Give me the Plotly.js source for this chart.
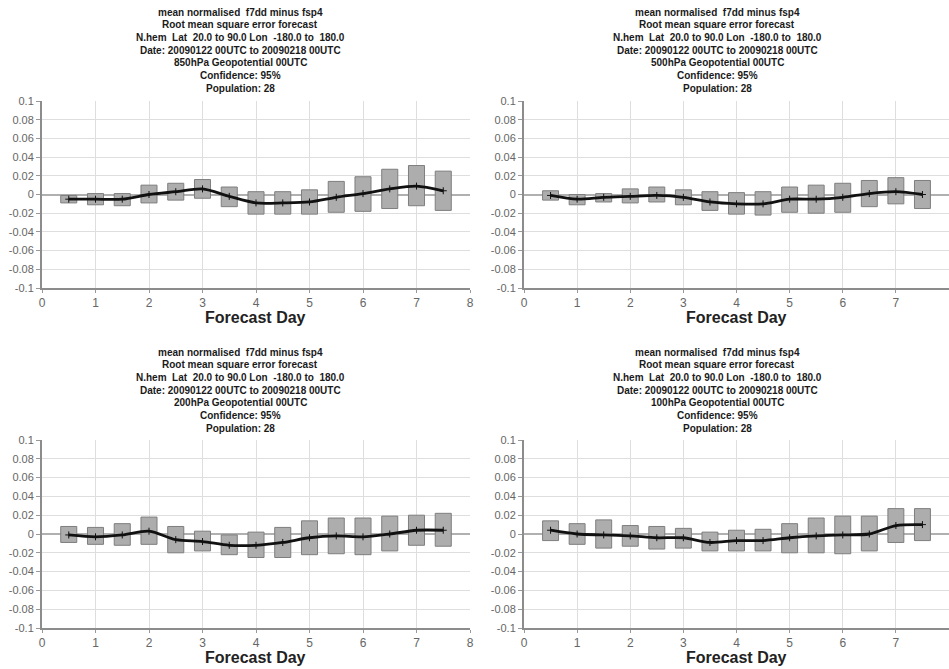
<!DOCTYPE html>
<html><head><meta charset="utf-8">
<script src="https://cdn.plot.ly/plotly-3.0.1.min.js"></script>
<style>html,body{margin:0;padding:0;background:#fff;}#chart{width:949px;height:669px;}</style>
</head><body><div id="chart"></div>
<script>
const days = [0.5,1,1.5,2,2.5,3,3.5,4,4.5,5,5.5,6,6.5,7,7.5];
const levels = ["850hPa","500hPa","200hPa","100hPa"];
// panel 1: 850hPa
const mean850 = [-0.005,-0.005,-0.005,0.000,0.003,0.006,-0.002,-0.009,-0.009,-0.008,-0.003,0.001,0.006,0.009,0.004];
const hi850   = [-0.001,0.001,0.001,0.010,0.012,0.016,0.008,0.003,0.003,0.005,0.014,0.019,0.027,0.031,0.025];
const lo850   = [-0.009,-0.011,-0.012,-0.009,-0.006,-0.004,-0.013,-0.021,-0.021,-0.021,-0.019,-0.018,-0.015,-0.012,-0.017];
// panel 2: 500hPa
const mean500 = [-0.001,-0.005,-0.003,-0.002,-0.001,-0.003,-0.008,-0.010,-0.010,-0.005,-0.005,-0.003,0.001,0.003,0.000];
const hi500   = [0.004,0.000,0.001,0.006,0.008,0.005,0.003,0.002,0.003,0.008,0.010,0.012,0.015,0.018,0.015];
const lo500   = [-0.006,-0.011,-0.008,-0.009,-0.008,-0.011,-0.017,-0.021,-0.022,-0.019,-0.020,-0.019,-0.013,-0.010,-0.015];
// panel 3: 200hPa
const mean200 = [-0.001,-0.003,-0.001,0.003,-0.006,-0.008,-0.012,-0.012,-0.009,-0.004,-0.002,-0.003,0.000,0.004,0.004];
const hi200   = [0.008,0.007,0.011,0.018,0.008,0.003,-0.001,0.002,0.007,0.014,0.017,0.017,0.019,0.020,0.022];
const lo200   = [-0.009,-0.011,-0.012,-0.011,-0.020,-0.018,-0.022,-0.025,-0.025,-0.022,-0.021,-0.022,-0.018,-0.012,-0.013];
// panel 4: 100hPa
const mean100 = [0.004,0.000,-0.001,-0.002,-0.004,-0.004,-0.009,-0.007,-0.007,-0.004,-0.002,-0.001,0.000,0.009,0.010];
const hi100   = [0.014,0.011,0.015,0.009,0.008,0.006,0.002,0.004,0.005,0.011,0.017,0.019,0.019,0.027,0.027];
const lo100   = [-0.007,-0.011,-0.015,-0.013,-0.016,-0.015,-0.018,-0.018,-0.018,-0.020,-0.020,-0.021,-0.018,-0.009,-0.007];

const yTickVals = [0.1,0.08,0.06,0.04,0.02,0,-0.02,-0.04,-0.06,-0.08,-0.1];
const yTickText = ["0.1","0.08","0.06","0.04","0.02","0","-0.02","-0.04","-0.06","-0.08","-0.1"];
const xTickVals = [0,1,2,3,4,5,6,7,8];
const xTickText = ["0","1","2","3","4","5","6","7","8"];
const titleLines = ["mean normalised  f7dd minus fsp4","Root mean square error forecast","N.hem  Lat  20.0 to 90.0 Lon  -180.0 to  180.0","Date: 20090122 00UTC to 20090218 00UTC","{LEVEL} Geopotential 00UTC","Confidence: 95%","Population: 28"];
const xTitle = "Forecast Day";

const panels = [
  {mean:mean850, hi:hi850, lo:lo850},
  {mean:mean500, hi:hi500, lo:lo500},
  {mean:mean200, hi:hi200, lo:lo200},
  {mean:mean100, hi:hi100, lo:lo100}
];

const W=949, H=669;
const px = (a,b)=>[a/W,b/W];
const py = (top,bot)=>[(H-bot)/H,(H-top)/H];
const xd = [px(42,470), px(524,949), px(42,470), px(524,949)];
const yd = [py(101,288), py(101,288), py(440,628), py(440,628)];
const titleCx = [240,717,240,717];
const titleFirst = [12,12,352,352];
const lineGap = 12.7;
const xTitleY = [317,317,657,657];

const data=[];
const layout={
  width:W,height:H,margin:{l:0,r:0,t:0,b:0},showlegend:false,
  paper_bgcolor:'#fff',plot_bgcolor:'#fff',
  font:{family:'Liberation Sans, Arial, sans-serif',color:'#222'},
  annotations:[]
};
panels.forEach((p,i)=>{
  const n=i+1, xa='x'+(n===1?'':n), ya='y'+(n===1?'':n);
  data.push({type:'bar',x:days,y:p.hi.map((h,k)=>h-p.lo[k]),base:p.lo,width:0.3,
    xaxis:xa,yaxis:ya,marker:{color:'#adadad',line:{color:'#7e7e7e',width:1}},hoverinfo:'skip'});
  data.push({type:'scatter',mode:'lines+markers',x:days,y:p.mean,xaxis:xa,yaxis:ya,
    line:{color:'#111',width:2.8,shape:'spline',smoothing:0.8},
    marker:{symbol:'cross-thin',size:5,color:'#111',line:{color:'#111',width:1}}});
  const axX={domain:xd[i],range:[0,8],tickvals:xTickVals,ticktext:xTickText,
    showgrid:true,gridcolor:'#dedede',gridwidth:1,zeroline:false,
    showline:true,linecolor:'#8c8c8c',linewidth:2,ticks:'outside',ticklen:3,tickcolor:'#999',
    tickfont:{size:12,color:'#666'},anchor:ya,fixedrange:true};
  const axY={domain:yd[i],range:[-0.1,0.1],tickvals:yTickVals,ticktext:yTickText,
    showgrid:true,gridcolor:'#dedede',gridwidth:1,zeroline:true,zerolinecolor:'#b0b0b0',zerolinewidth:2,
    showline:true,linecolor:'#8c8c8c',linewidth:2,ticks:'outside',ticklen:4,tickcolor:'#999',
    tickfont:{size:11,color:'#666'},anchor:xa,fixedrange:true};
  layout['xaxis'+(n===1?'':n)]=axX;
  layout['yaxis'+(n===1?'':n)]=axY;
  titleLines.forEach((s,k)=>{
    layout.annotations.push({xref:'paper',yref:'paper',x:titleCx[i]/W,y:(H-(titleFirst[i]+k*lineGap))/H,
      xanchor:'center',yanchor:'middle',showarrow:false,align:'center',
      text:'<b>'+s.replace('{LEVEL}',levels[i])+'</b>',
      font:{size:10,color:'#1a1a1a'}});
  });
  layout.annotations.push({xref:'paper',yref:'paper',x:(xd[i][0]+xd[i][1])/2,y:(H-xTitleY[i])/H,
    xanchor:'center',yanchor:'middle',showarrow:false,text:'<b>'+xTitle+'</b>',
    font:{size:16,color:'#222'}});
});
Plotly.newPlot('chart',data,layout,{displayModeBar:false,staticPlot:true});
</script></body></html>
